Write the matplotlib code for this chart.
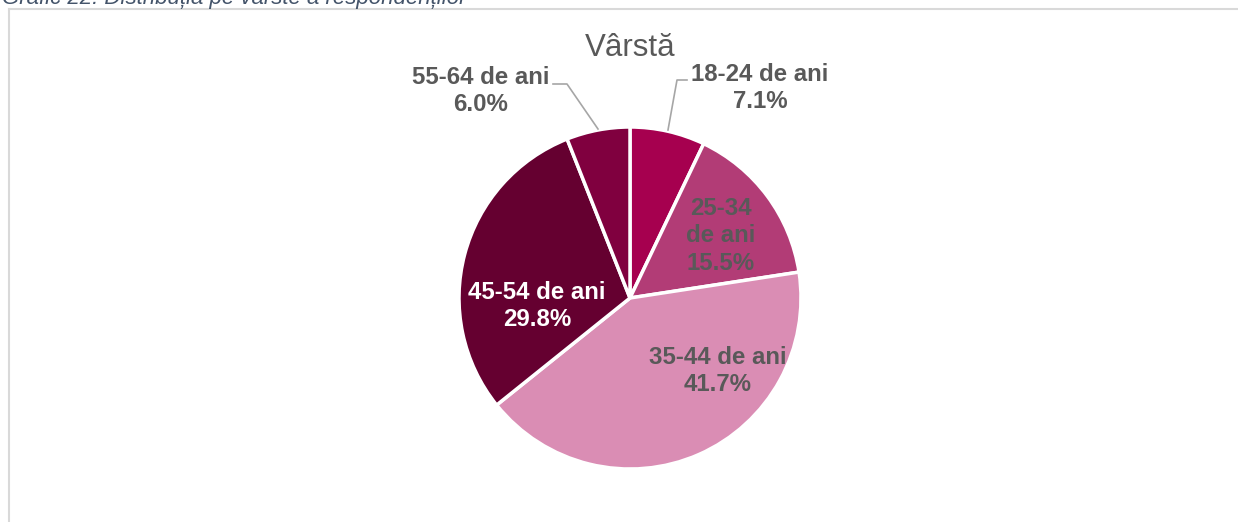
import matplotlib
matplotlib.use("Agg")
import matplotlib.pyplot as plt
from matplotlib.lines import Line2D

categories = ["18-24 de ani", "25-34 de ani", "35-44 de ani", "45-54 de ani", "55-64 de ani"]
values = [7.1, 15.5, 41.7, 29.8, 6.0]
colors = ["#A6004F", "#B23C76", "#DA8DB4", "#650030", "#80003F"]
title = "Vârstă"
caption = "Grafic 22. Distribuția pe vârste a respondenților"

W, H = 1238, 522
fig = plt.figure(figsize=(W / 100, H / 100), dpi=100)
ax = fig.add_axes([0, 0, 1, 1])

def Y(py):
    return H - py

cx, cy, R = 630, 298, 171
ax.pie(values, colors=colors, startangle=90, counterclock=False,
       center=(cx, Y(cy)), radius=R,
       wedgeprops=dict(edgecolor="white", linewidth=2.5))
ax.set_xlim(0, W)
ax.set_ylim(0, H)
ax.set_aspect("equal")
ax.axis("off")

font = ["Liberation Sans", "DejaVu Sans"]
gray = "#595959"

# frame
fig.add_artist(Line2D([9 / W, 1], [1 - 9 / H, 1 - 9 / H], color="#D9D9D9", lw=1.5, transform=fig.transFigure))
fig.add_artist(Line2D([9 / W, 9 / W], [0, 1 - 9 / H], color="#D9D9D9", lw=1.5, transform=fig.transFigure))

# caption (cut off at top, as in the reference)
fig.text(2 / W, 1 - 4 / H, caption, family=font, style="italic", fontsize=16,
         color="#44546A", ha="left", va="baseline")

ax.text(cx, Y(48), title, family=font, fontsize=22.5, color=gray, ha="center", va="center")

# label layout (pixel positions, not data)
label_pos = [(760, 88), (721, 236), (718, 371), (537, 306), (481, 91)]
label_col = [gray, gray, gray, "white", gray]
for i, (cat, v) in enumerate(zip(categories, values)):
    x, y = label_pos[i]
    if i == 1:
        txt = "25-34\nde ani\n" + f"{v:.1f}%"
    else:
        txt = f"{cat}\n{v:.1f}%"
    ax.text(x, Y(y), txt, family=font, fontsize=17.3, fontweight="bold",
            color=label_col[i], ha="center", va="center", linespacing=1.25)

# leader lines
ax.plot([687, 677, 668], [Y(80), Y(80), Y(130)], color="#A6A6A6", lw=1.2)
ax.plot([553, 567, 598], [Y(84), Y(84), Y(129)], color="#A6A6A6", lw=1.2)

fig.savefig("out.png", dpi=100)
